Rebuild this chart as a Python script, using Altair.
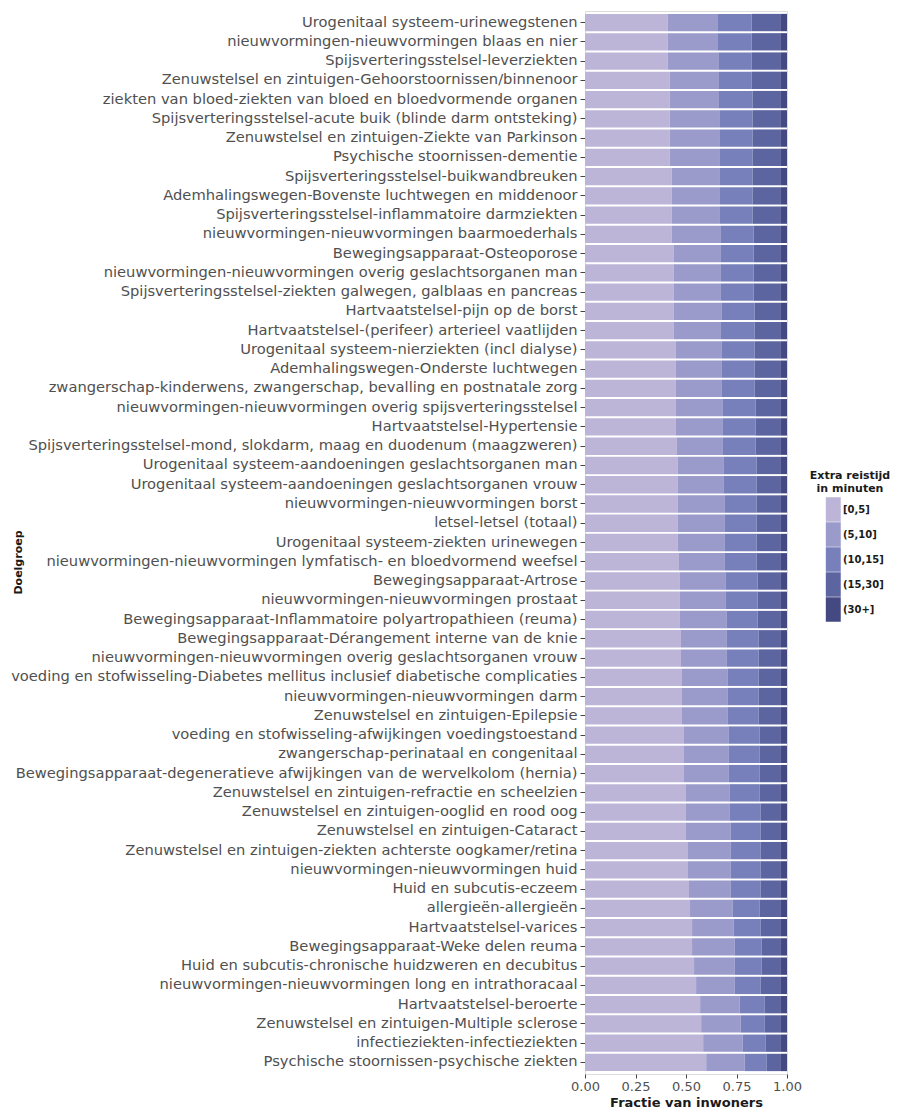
import altair as alt
import pandas as pd

# Doelgroepen, top to bottom
doelgroepen = [
    "Urogenitaal systeem-urinewegstenen",
    "nieuwvormingen-nieuwvormingen blaas en nier",
    "Spijsverteringsstelsel-leverziekten",
    "Zenuwstelsel en zintuigen-Gehoorstoornissen/binnenoor",
    "ziekten van bloed-ziekten van bloed en bloedvormende organen",
    "Spijsverteringsstelsel-acute buik (blinde darm ontsteking)",
    "Zenuwstelsel en zintuigen-Ziekte van Parkinson",
    "Psychische stoornissen-dementie",
    "Spijsverteringsstelsel-buikwandbreuken",
    "Ademhalingswegen-Bovenste luchtwegen en middenoor",
    "Spijsverteringsstelsel-inflammatoire darmziekten",
    "nieuwvormingen-nieuwvormingen baarmoederhals",
    "Bewegingsapparaat-Osteoporose",
    "nieuwvormingen-nieuwvormingen overig geslachtsorganen man",
    "Spijsverteringsstelsel-ziekten galwegen, galblaas en pancreas",
    "Hartvaatstelsel-pijn op de borst",
    "Hartvaatstelsel-(perifeer) arterieel vaatlijden",
    "Urogenitaal systeem-nierziekten (incl dialyse)",
    "Ademhalingswegen-Onderste luchtwegen",
    "zwangerschap-kinderwens, zwangerschap, bevalling en postnatale zorg",
    "nieuwvormingen-nieuwvormingen overig spijsverteringsstelsel",
    "Hartvaatstelsel-Hypertensie",
    "Spijsverteringsstelsel-mond, slokdarm, maag en duodenum (maagzweren)",
    "Urogenitaal systeem-aandoeningen geslachtsorganen man",
    "Urogenitaal systeem-aandoeningen geslachtsorganen vrouw",
    "nieuwvormingen-nieuwvormingen borst",
    "letsel-letsel (totaal)",
    "Urogenitaal systeem-ziekten urinewegen",
    "nieuwvormingen-nieuwvormingen lymfatisch- en bloedvormend weefsel",
    "Bewegingsapparaat-Artrose",
    "nieuwvormingen-nieuwvormingen prostaat",
    "Bewegingsapparaat-Inflammatoire polyartropathieen (reuma)",
    "Bewegingsapparaat-Dérangement interne van de knie",
    "nieuwvormingen-nieuwvormingen overig geslachtsorganen vrouw",
    "voeding en stofwisseling-Diabetes mellitus inclusief diabetische complicaties",
    "nieuwvormingen-nieuwvormingen darm",
    "Zenuwstelsel en zintuigen-Epilepsie",
    "voeding en stofwisseling-afwijkingen voedingstoestand",
    "zwangerschap-perinataal en congenitaal",
    "Bewegingsapparaat-degeneratieve afwijkingen van de wervelkolom (hernia)",
    "Zenuwstelsel en zintuigen-refractie en scheelzien",
    "Zenuwstelsel en zintuigen-ooglid en rood oog",
    "Zenuwstelsel en zintuigen-Cataract",
    "Zenuwstelsel en zintuigen-ziekten achterste oogkamer/retina",
    "nieuwvormingen-nieuwvormingen huid",
    "Huid en subcutis-eczeem",
    "allergieën-allergieën",
    "Hartvaatstelsel-varices",
    "Bewegingsapparaat-Weke delen reuma",
    "Huid en subcutis-chronische huidzweren en decubitus",
    "nieuwvormingen-nieuwvormingen long en intrathoracaal",
    "Hartvaatstelsel-beroerte",
    "Zenuwstelsel en zintuigen-Multiple sclerose",
    "infectieziekten-infectieziekten",
    "Psychische stoornissen-psychische ziekten",
]

klassen = ["[0,5]", "(5,10]", "(10,15]", "(15,30]", "(30+]"]
kleuren = ["#bcb5d7", "#9a9acb", "#7880bb", "#5d65a1", "#444981"]

# Fraction of inhabitants per extra-travel-time class, same order as doelgroepen
frac_0_5 = [
    0.41, 0.41, 0.41, 0.42, 0.42, 0.42, 0.42, 0.42, 0.43, 0.43,
    0.43, 0.43, 0.44, 0.44, 0.44, 0.44, 0.44, 0.45, 0.45, 0.45,
    0.45, 0.45, 0.455, 0.46, 0.46, 0.46, 0.46, 0.46, 0.465, 0.47,
    0.47, 0.47, 0.475, 0.475, 0.48, 0.48, 0.48, 0.49, 0.49, 0.49,
    0.50, 0.50, 0.50, 0.51, 0.51, 0.515, 0.52, 0.53, 0.53, 0.54,
    0.55, 0.57, 0.575, 0.585, 0.60,
]
frac_5_10 = [
    0.245, 0.245, 0.25, 0.24, 0.24, 0.245, 0.245, 0.245, 0.235, 0.235,
    0.235, 0.24, 0.23, 0.23, 0.23, 0.235, 0.23, 0.225, 0.225, 0.225,
    0.23, 0.23, 0.225, 0.225, 0.225, 0.23, 0.23, 0.23, 0.225, 0.225,
    0.225, 0.23, 0.225, 0.225, 0.225, 0.225, 0.225, 0.22, 0.22, 0.22,
    0.215, 0.215, 0.22, 0.21, 0.21, 0.205, 0.21, 0.205, 0.21, 0.20,
    0.19, 0.195, 0.195, 0.195, 0.19,
]
frac_10_15 = [
    0.17, 0.17, 0.165, 0.165, 0.17, 0.165, 0.165, 0.165, 0.165, 0.165,
    0.165, 0.165, 0.165, 0.165, 0.165, 0.165, 0.17, 0.165, 0.165, 0.165,
    0.165, 0.165, 0.165, 0.165, 0.165, 0.16, 0.16, 0.16, 0.16, 0.16,
    0.16, 0.155, 0.16, 0.16, 0.155, 0.155, 0.155, 0.155, 0.155, 0.155,
    0.15, 0.155, 0.15, 0.15, 0.15, 0.15, 0.135, 0.135, 0.135, 0.135,
    0.13, 0.125, 0.12, 0.115, 0.11,
]
frac_15_30 = [
    0.145, 0.145, 0.145, 0.145, 0.14, 0.14, 0.14, 0.14, 0.14, 0.14,
    0.14, 0.135, 0.135, 0.135, 0.135, 0.13, 0.13, 0.13, 0.13, 0.13,
    0.125, 0.125, 0.125, 0.12, 0.12, 0.12, 0.12, 0.12, 0.12, 0.115,
    0.115, 0.115, 0.11, 0.11, 0.11, 0.11, 0.11, 0.105, 0.105, 0.105,
    0.105, 0.10, 0.10, 0.10, 0.10, 0.10, 0.105, 0.10, 0.095, 0.095,
    0.10, 0.08, 0.08, 0.075, 0.07,
]
frac_30plus = [0.03] * 55

series = [frac_0_5, frac_5_10, frac_10_15, frac_15_30, frac_30plus]

rows = []
for k, (klasse, waarden) in enumerate(zip(klassen, series)):
    for groep, w in zip(doelgroepen, waarden):
        rows.append({"Doelgroep": groep, "klasse": klasse, "volgorde": k, "fractie": w})
df = pd.DataFrame(rows)

FONT = "DejaVu Sans"

chart = (
    alt.Chart(df)
    .mark_bar(stroke=None)
    .encode(
        y=alt.Y(
            "Doelgroep:N",
            sort=doelgroepen,
            scale=alt.Scale(paddingInner=0.1, paddingOuter=0.15),
            axis=alt.Axis(
                title="Doelgroep",
                titleFont=FONT,
                titleFontSize=11,
                titleFontWeight="bold",
                titleColor="#1a1a1a",
                titleX=-562,
                titleY=551,
                labelFont=FONT,
                labelFontSize=14.7,
                labelColor="#505050",
                labelLimit=700,
                labelPadding=3,
                tickSize=5,
                tickColor="#444444",
                domain=False,
                grid=False,
            ),
        ),
        x=alt.X(
            "fractie:Q",
            stack="zero",
            scale=alt.Scale(domain=[0, 1], nice=False),
            axis=alt.Axis(
                title="Fractie van inwoners",
                titleFont=FONT,
                titleFontSize=13,
                titleFontWeight="bold",
                titleColor="#1a1a1a",
                titlePadding=3,
                values=[0, 0.25, 0.5, 0.75, 1.0],
                format=".2f",
                labelOverlap=False,
                labelFlush=False,
                labelFont=FONT,
                labelFontSize=13,
                labelColor="#505050",
                labelPadding=2,
                tickSize=4,
                tickColor="#444444",
                domain=False,
                grid=False,
            ),
        ),
        color=alt.Color(
            "klasse:N",
            scale=alt.Scale(domain=klassen, range=kleuren),
            legend=alt.Legend(
                title=["Extra reistijd", "in minuten"],
                titleFont=FONT,
                titleFontSize=11,
                titleFontWeight="bold",
                titleColor="#1a1a1a",
                titleAlign="center",
                titleAnchor="middle",
                titlePadding=3,
                labelFont=FONT,
                labelFontSize=10,
                labelFontWeight="bold",
                labelColor="#1a1a1a",
                labelOffset=2,
                symbolType="M-0.22,-1H1V1H-0.22Z",
                symbolSize=600,
                symbolStrokeWidth=0,
                symbolOpacity=1,
                rowPadding=0,
                orient="none",
                legendX=225,
                legendY=459,
            ),
        ),
        order=alt.Order("volgorde:Q", sort="ascending"),
    )
    .properties(
        width=202,
        height=1063,
        autosize=alt.AutoSizeParams(type="none"),
        padding={"left": 585, "top": 11, "right": 115, "bottom": 39},
    )
    .configure_view(stroke=None)
    .configure(background="white")
)

chart.save("out.html", embed_options={"renderer": "svg", "actions": False})
